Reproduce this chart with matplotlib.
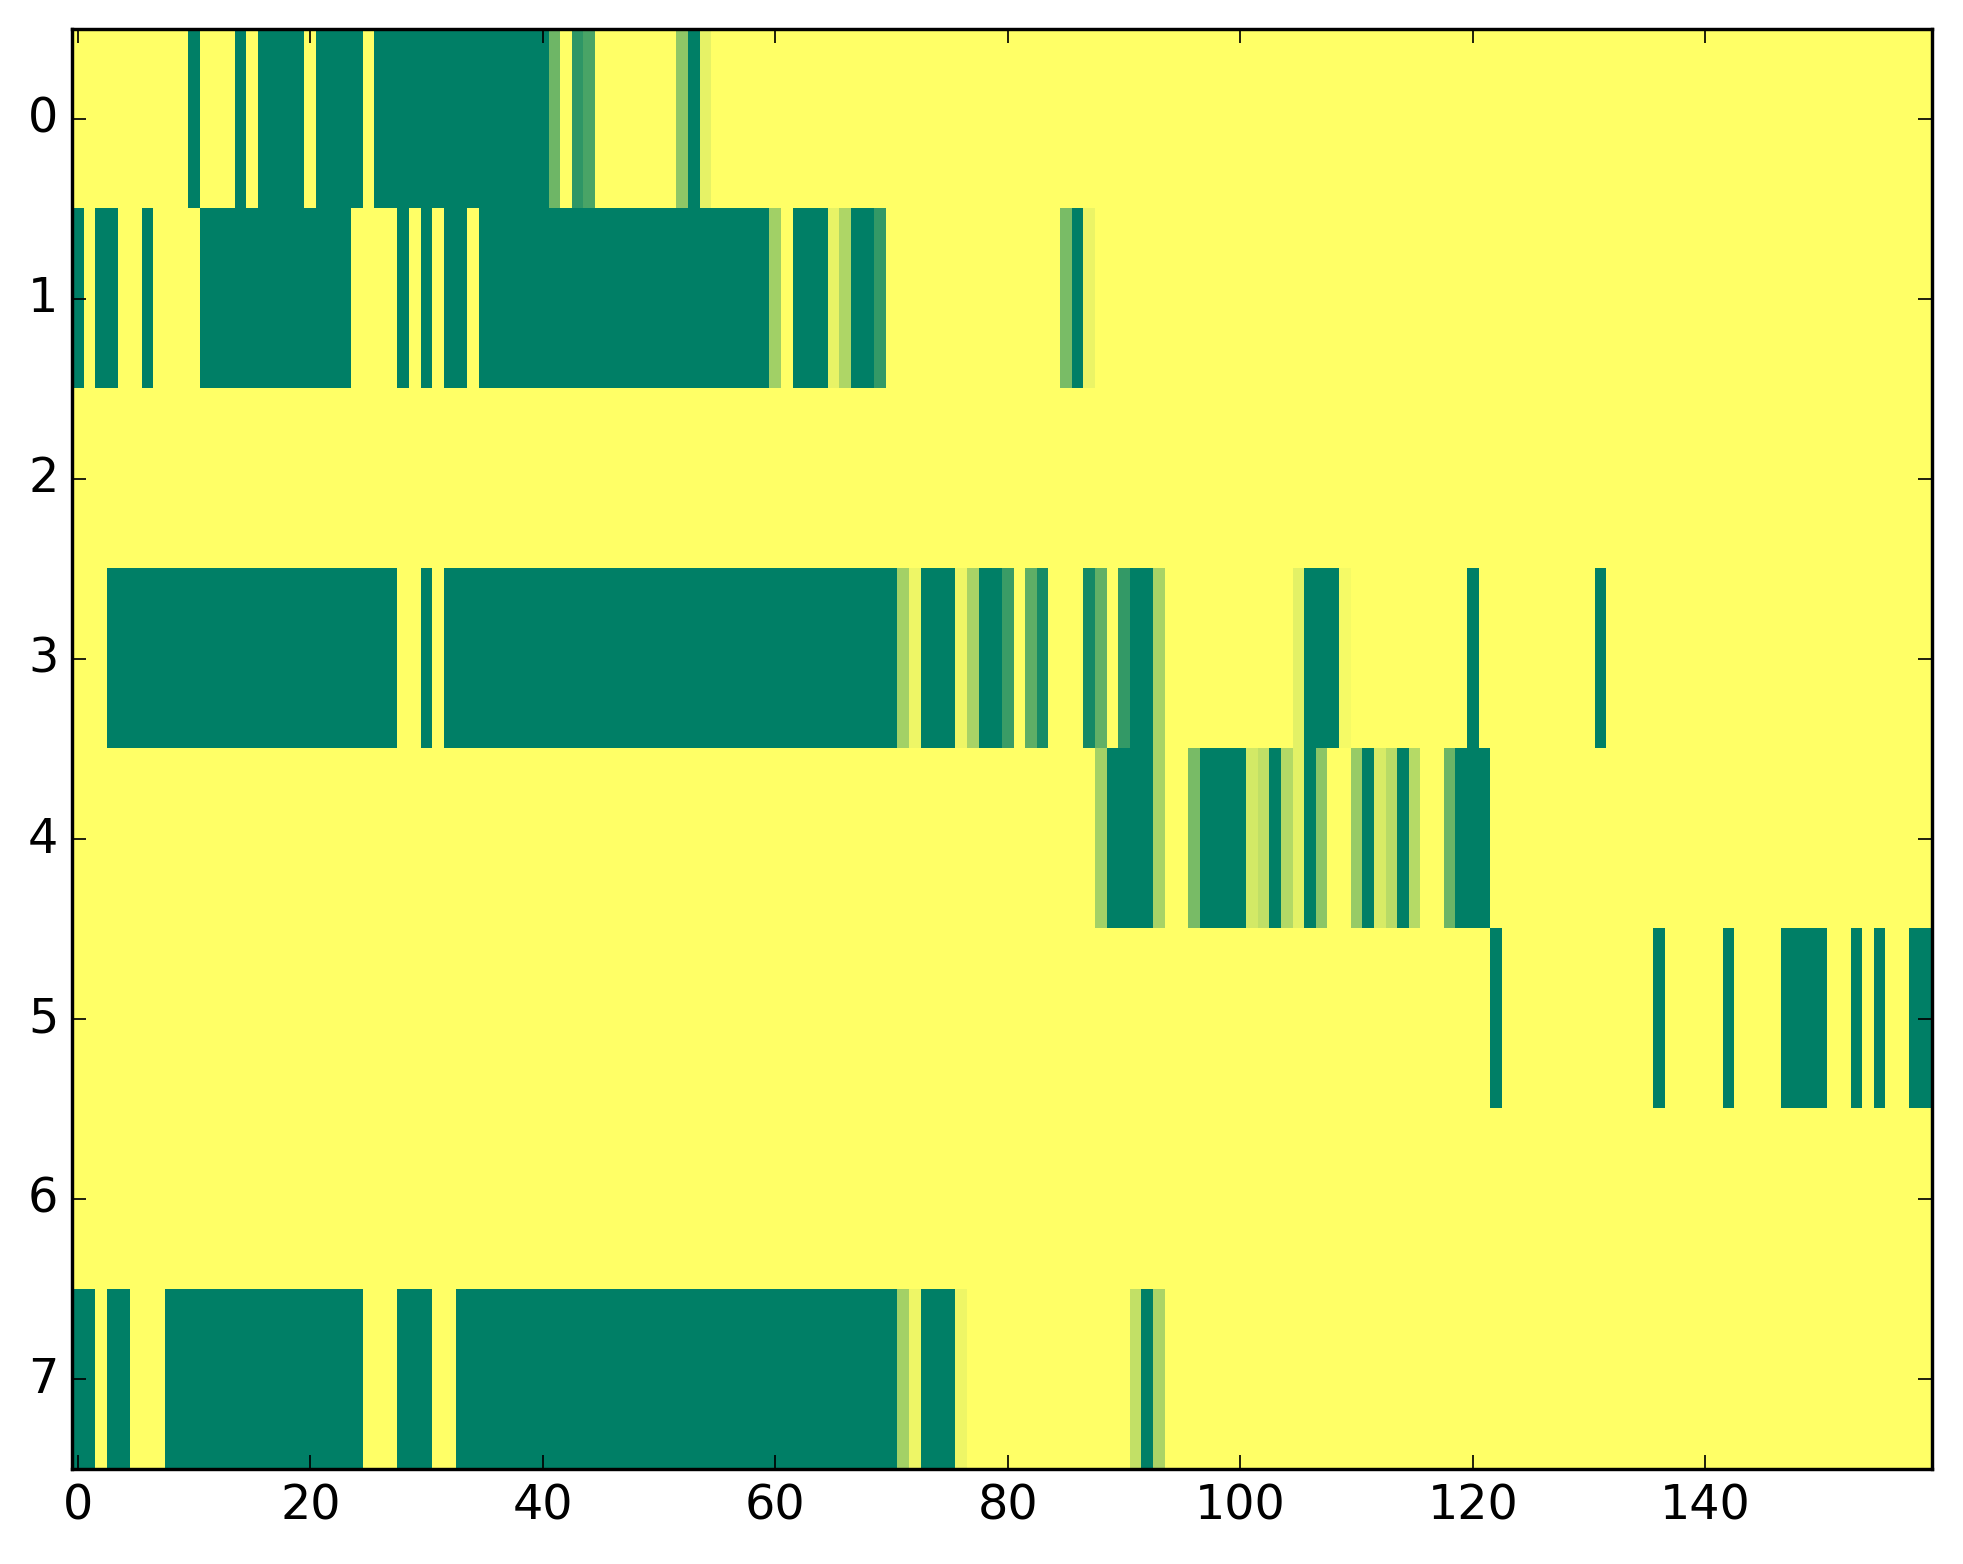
import numpy as np
import matplotlib
matplotlib.use("Agg")
import matplotlib.pyplot as plt

# each row as (value, run length) pairs read left to right, 160 columns total
ROW0 = [(1, 10), (0, 1), (1, 3), (0, 1), (1, 1), (0, 4), (1, 1), (0, 4), (1, 1),
        (0, 15), (0.43, 1), (1, 1), (0.18, 1), (0.29, 1), (1, 7), (0.56, 1),
        (0, 1), (0.9, 1), (1, 105)]
ROW1 = [(0, 1), (1, 1), (0, 2), (1, 2), (0, 1), (1, 4), (0, 13), (1, 4), (0, 1),
        (1, 1), (0, 1), (1, 1), (0, 2), (1, 1), (0, 25), (0.63, 1), (1, 1),
        (0, 3), (0.91, 1), (0.68, 1), (0, 2), (0.2, 1), (1, 15), (0.48, 1),
        (0, 1), (0.92, 1), (1, 72)]
ROW2 = [(1, 160)]
ROW3 = [(1, 3), (0, 25), (1, 2), (0, 1), (1, 1), (0, 39), (0.64, 1), (0.93, 1),
        (0, 3), (0.93, 1), (0.66, 1), (0, 2), (0.23, 1), (1, 1), (0.37, 1),
        (0.09, 1), (1, 3), (0.08, 1), (0.38, 1), (1, 1), (0.2, 1), (0, 2),
        (0.66, 1), (1, 11), (0.89, 1), (0, 3), (0.96, 1), (1, 10), (0, 1),
        (1, 10), (0, 1), (1, 28)]
ROW4 = [(1, 88), (0.64, 1), (0, 4), (0.66, 1), (1, 2), (0.47, 1), (0, 4),
        (0.83, 1), (0.75, 1), (0, 1), (0.7, 1), (0.89, 1), (0, 1), (0.55, 1),
        (1, 2), (0.59, 1), (0, 1), (0.84, 1), (0.72, 1), (0, 1), (0.71, 1),
        (1, 2), (0.42, 1), (0, 3), (1, 38)]
ROW5 = [(1, 122), (0, 1), (1, 13), (0, 1), (1, 5), (0, 1), (1, 4), (0, 4),
        (1, 2), (0, 1), (1, 1), (0, 1), (1, 2), (0, 2)]
ROW6 = [(1, 160)]
ROW7 = [(0, 2), (1, 1), (0, 2), (1, 3), (0, 17), (1, 3), (0, 3), (1, 2), (0, 38),
        (0.64, 1), (0.93, 1), (0, 3), (0.93, 1), (1, 14), (0.76, 1), (0, 1),
        (0.67, 1), (1, 66)]

ROWS = [ROW0, ROW1, ROW2, ROW3, ROW4, ROW5, ROW6, ROW7]


def expand(runs):
	vals = [v for v, n in runs]
	counts = [n for v, n in runs]
	return np.repeat(vals, counts)


data = np.vstack([expand(r) for r in ROWS])

plt.style.use("classic")
fig = plt.figure(figsize=(1963 / 245.0, 1564 / 245.0), dpi=245)
ax = fig.add_axes([0.0367, 0.0606, 0.9475, 0.921])
ax.imshow(data, cmap="summer", aspect="auto", interpolation="nearest",
          vmin=0, vmax=1)
ax.set_xticks(np.arange(0, 160, 20))
ax.set_yticks(np.arange(0, 8))
ax.tick_params(labelsize=14)

fig.savefig("out.png", dpi=245)
